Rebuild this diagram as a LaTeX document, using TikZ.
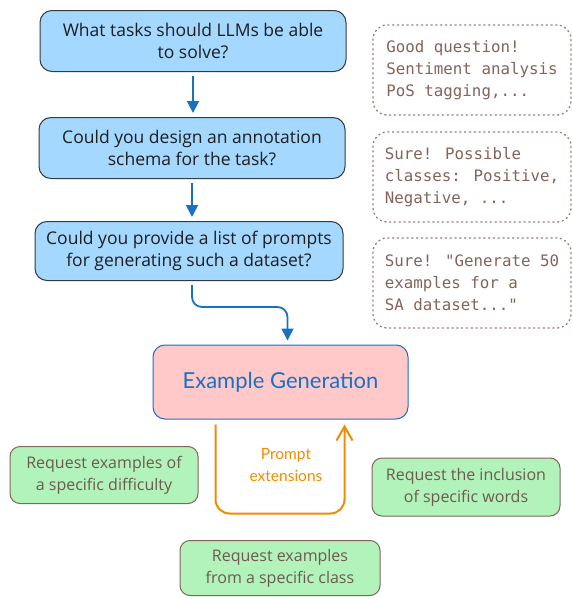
\documentclass[tikz,border=0pt]{standalone}
\usepackage{fontspec}
\setmainfont{Open Sans}
\newfontfamily\monofont{DejaVu Sans Mono}
\newfontfamily\genfont{Lato}
\usetikzlibrary{arrows.meta,calc,positioning}

\definecolor{qfill}{HTML}{A5D8FF}
\definecolor{qline}{HTML}{343A40}
\definecolor{qtext}{HTML}{1E1E1E}
\definecolor{flowblue}{HTML}{1971C2}
\definecolor{genfill}{HTML}{FFC9C9}
\definecolor{reqfill}{HTML}{B2F2BB}
\definecolor{reqline}{HTML}{846358}
\definecolor{reqtext}{HTML}{6E5A50}
\definecolor{anstext}{HTML}{846358}
\definecolor{loopcol}{HTML}{F08C00}

\begin{document}
\begin{tikzpicture}[x=1pt,y=-1pt,
  question/.style={draw=qline,fill=qfill,line width=1pt,rounded corners=12pt,
    minimum width=306pt,minimum height=61pt,align=center,text=qtext,
    font=\fontsize{17.5}{22}\selectfont},
  answer/.style={draw=anstext!85,line width=1.3pt,dash pattern=on 1.2pt off 3.6pt,
    line cap=round,rounded corners=14pt,minimum width=198pt,minimum height=90pt,
    align=left,text=anstext,font=\monofont\fontsize{15.8}{22}\selectfont},
  request/.style={draw=reqline,fill=reqfill,line width=1pt,rounded corners=10pt,
    minimum width=188pt,minimum height=57pt,align=center,text=reqtext,
    font=\fontsize{16}{22}\selectfont},
  flow/.style={-{Triangle[length=12pt,width=12pt]},draw=flowblue,line width=1.8pt,
    shorten >=4pt,shorten <=4pt}]
  \useasboundingbox (0,0) rectangle (572,597);

  % questions
  \node[question] (q1) at (193,41) {What tasks should LLMs be able\\to solve?};
  \node[question] (q2) at (192,148) {Could you design an annotation\\schema for the task?};
  \node[question,minimum width=308pt,minimum height=59pt] (q3) at (189,251)
    {Could you provide a list of prompts\\for generating such a dataset?};

  % answers
  \node[answer] (a1) at (472,70) {Good question!\\Sentiment analysis\\PoS tagging,...};
  \node[answer] (a2) at (472,177) {Sure! Possible\\classes: Positive,\\Negative, ...};
  \node[answer] (a3) at (472,283) {Sure! "Generate 50\\examples for a\\SA dataset..."};

  \draw[flow] (q1.south) -- (q1.south |- q2.north);
  \draw[flow] (q2.south) -- (q2.south |- q3.north);

  % generation
  \node[draw=flowblue,fill=genfill,line width=1pt,rounded corners=12pt,
    minimum width=255pt,minimum height=74pt,text=flowblue,
    font=\genfont\fontsize{22}{26}\selectfont] (gen) at (280.5,382) {Example Generation};
  \draw[flow,rounded corners=10pt] ($(q3.south)+(3,0)$) -- ++(0,26)
    -| ($(gen.north)+(7,0)$);

  % prompt extensions
  \draw[-{Straight Barb[length=14pt,width=16pt]},draw=loopcol,line width=2pt,
    rounded corners=14pt] ($(gen.south west)+(63,5)$) -- ++(0,89)
    -| ($(gen.south west)+(192,5)$);
  \node[text=loopcol,align=center,font=\genfont\fontsize{15.5}{22}\selectfont]
    (ext) at (286,465) {Prompt\\extensions};

  % requests
  \node[request] (r1) at (104,475) {Request examples of\\a specific difficulty};
  \node[request,minimum height=58pt] (r2) at (466,487) {Request the inclusion\\of specific words};
  \node[request,minimum width=200pt,minimum height=55pt] (r3) at (280,568)
    {Request examples\\from a specific class};
\end{tikzpicture}
\end{document}
